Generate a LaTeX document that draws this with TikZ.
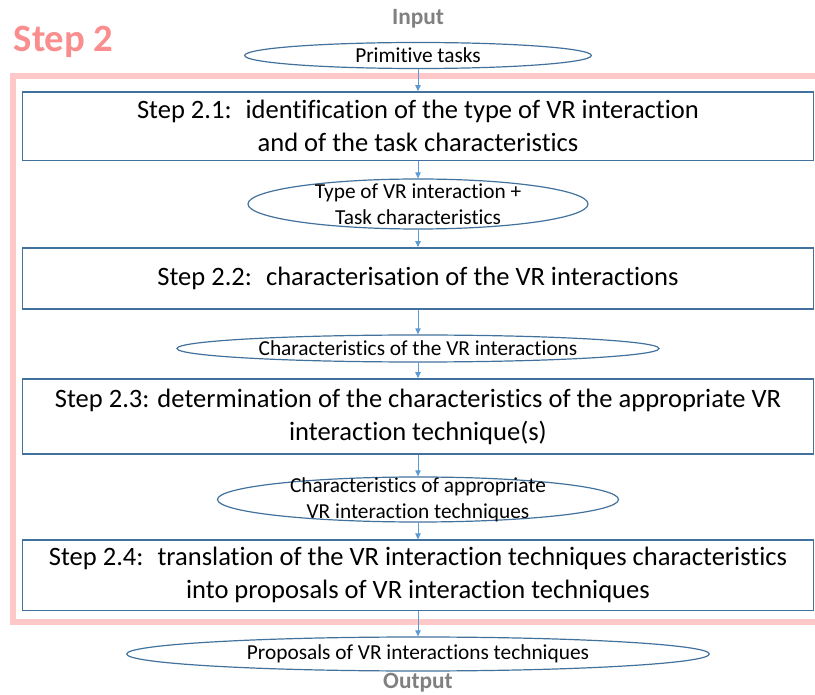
\documentclass[tikz,border=0pt]{standalone}
\usepackage{fontspec}
\setmainfont{Carlito}[Ligatures=NoCommon]
\usepackage{tikz}
\usetikzlibrary{arrows.meta,positioning,shapes.geometric}
\definecolor{boxBlue}{RGB}{65,113,156}
\definecolor{arrowBlue}{RGB}{91,155,213}
\definecolor{framePink}{RGB}{255,200,200}
\definecolor{titlePink}{RGB}{250,142,142}
\definecolor{ioGray}{RGB}{128,128,128}
\tikzset{
  stepbox/.style={draw=boxBlue, line width=1.2pt, minimum width=593pt, inner sep=0pt,
    align=center, font=\fontsize{19.9}{24.75}\selectfont},
  dataell/.style={ellipse, draw=boxBlue, line width=0.9pt, inner xsep=0pt, inner ysep=-3pt,
    align=center, font=\fontsize{16}{19.5}\selectfont},
  flowarrow/.style={-{Triangle[length=4.5pt,width=4pt]}, line width=0.7pt, arrowBlue},
  iolabel/.style={ioGray, font=\fontsize{17.5}{20}\selectfont\bfseries},
  stepframe/.style={framePink, line width=4pt},
}

\begin{document}
\begin{tikzpicture}[x=0.75pt, y=-0.75pt]
    \useasboundingbox (0,0) rectangle (815,695);

    % step 2 frame, open on the right
    \draw[stepframe] (815,76) -| (13,622) -- (815,622);
    \node[anchor=west, titlePink, font=\fontsize{29}{32}\selectfont\bfseries] (title) at (9,42) {Step 2};

    % input
    \node[iolabel] (input) at (418,19) {Input};
    \node[dataell, minimum width=260pt, minimum height=19.5pt] (prim) at (418,55.5) {Primitive tasks};

    % sub-steps and their outputs
    \node[stepbox, minimum height=51.4pt] (s1) at (418,126.3)
      {Step 2.1:~ identification of the type of VR interaction\\and of the task characteristics};
    \node[dataell, inner ysep=-7pt, minimum width=255pt, minimum height=37.5pt] (type) at (418,204)
      {Type of VR interaction +\\Task characteristics};
    \node[stepbox, minimum height=45.75pt] (s2) at (418,278.5)
      {Step 2.2:~ characterisation of the VR interactions};
    \node[dataell, minimum width=361.5pt, minimum height=20.25pt] (chars) at (418,348.5)
      {Characteristics of the VR interactions};
    \node[stepbox, minimum height=56.25pt] (s3) at (418,416.5)
      {Step 2.3: determination of the characteristics of the appropriate VR\\interaction technique(s)};
    \node[dataell, inner ysep=-7pt, minimum width=300.75pt, minimum height=33.75pt] (appr) at (418,499.5)
      {Characteristics of appropriate\\VR interaction techniques};
    \node[stepbox, minimum height=52.5pt] (s4) at (418,575.3)
      {Step 2.4:~ translation of the VR interaction techniques characteristics\\into proposals of VR interaction techniques};

    % output
    \node[dataell, minimum width=437pt, minimum height=25.5pt] (prop) at (418,654)
      {Proposals of VR interactions techniques};
    \node[iolabel] (output) at (418,683) {Output};

    \draw[flowarrow] (prim) -- (s1);
    \draw[flowarrow] (s1) -- (type);
    \draw[flowarrow] (type) -- (s2);
    \draw[flowarrow] (s2) -- (chars);
    \draw[flowarrow] (chars) -- (s3);
    \draw[flowarrow] (s3) -- (appr);
    \draw[flowarrow] (appr) -- (s4);
    \draw[flowarrow] (s4) -- (prop);
\end{tikzpicture}
\end{document}
